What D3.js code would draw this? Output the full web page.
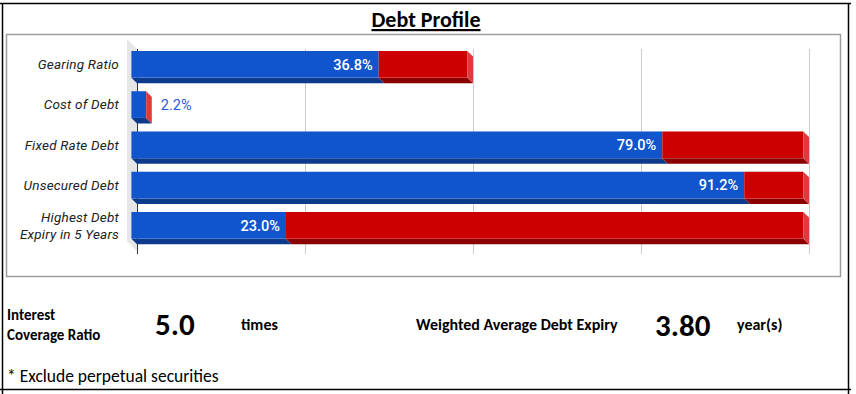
<!DOCTYPE html>
<html>
<head>
<meta charset="utf-8">
<title>Debt Profile</title>
<script src="https://d3js.org/d3.v7.min.js"></script>
<style>
  body { margin: 0; background: #fff; }
  svg { display: block; }
</style>
</head>
<body>
<svg id="chart" width="856" height="394"></svg>
<script>
// bar data: blue = reported value, red = remainder up to the limit
var categories = ["Gearing Ratio", "Cost of Debt", "Fixed Rate Debt", "Unsecured Debt", "Highest Debt|Expiry in 5 Years"];
var actual = [36.8, 2.2, 79.0, 91.2, 23.0];
var remainder = [13.2, 0, 21.0, 8.8, 77.0];
var ticks = [0, 25, 50, 75, 100];

// summary figures under the chart
var statNames = ["Interest|Coverage Ratio", "Weighted Average Debt Expiry"];
var statValues = ["5.0", "3.80"];
var statUnits = ["times", "year(s)"];
var footnote = "* Exclude perpetual securities";

var svg = d3.select("#chart");
var calibri = "Carlito, Calibri, Lato, sans-serif";

// outer frame
svg.append("line").attr("x1", 0).attr("x2", 851).attr("y1", 3.5).attr("y2", 3.5).attr("stroke", "#000").attr("stroke-width", 1.5);
svg.append("line").attr("x1", 0).attr("x2", 851).attr("y1", 389.5).attr("y2", 389.5).attr("stroke", "#000").attr("stroke-width", 1.5);
svg.append("line").attr("x1", 2.5).attr("x2", 2.5).attr("y1", 3).attr("y2", 394).attr("stroke", "#000").attr("stroke-width", 1.5);
svg.append("line").attr("x1", 848.5).attr("x2", 848.5).attr("y1", 3).attr("y2", 394).attr("stroke", "#000").attr("stroke-width", 1.5);

svg.append("text").attr("x", 426).attr("y", 27)
  .attr("text-anchor", "middle")
  .style("font-family", calibri).style("font-weight", "bold").style("font-size", "22px")
  .style("text-decoration", "underline")
  .text("Debt Profile");

// chart box
svg.append("rect").attr("x", 6.5).attr("y", 34.5).attr("width", 834).attr("height", 242)
  .attr("fill", "#fff").attr("stroke", "#9e9e9e").attr("stroke-width", 1.5);

var depth = 5.6;
var x = d3.scaleLinear().domain([0, 100]).range([137, 809]);
var y = d3.scaleBand().domain(categories).range([44.2, 245.45]).paddingInner(0.337).paddingOuter(0.1685);
var bw = y.bandwidth();
var x0 = x(0);

// left wall of the 3d plot
svg.append("polygon")
  .attr("points", [[x0 - 10, 39], [x0, 49], [x0, 251], [x0 - 10, 241]].join(" "))
  .attr("fill", "#e6e6e6");

// gridlines
svg.selectAll(".grid").data(ticks.slice(1)).enter().append("line")
  .attr("class", "grid")
  .attr("x1", function (d) { return x(d) + 0.5; }).attr("x2", function (d) { return x(d) + 0.5; })
  .attr("y1", 49).attr("y2", 254)
  .attr("stroke", "#cccccc").attr("stroke-width", 1);

svg.append("line").attr("x1", x0 + 0.5).attr("x2", x0 + 0.5).attr("y1", 49).attr("y2", 254)
  .attr("stroke", "#333").attr("stroke-width", 1);

var colors = {
  blue: { front: "#1155cc", bottom: "#0d3a8a", side: "#2d6ae0" },
  red: { front: "#cc0000", bottom: "#8a0000", side: "#dc3c3c" }
};

function xf(v) { return x(v) - depth; }

var rows = categories.map(function (c, i) {
  return { cat: c, segs: [
    { a: 0, b: actual[i], col: colors.blue },
    { a: actual[i], b: actual[i] + remainder[i], col: colors.red }
  ], value: actual[i] };
});

var g = svg.append("g");
rows.forEach(function (r) {
  var top = y(r.cat), bot = top + bw;
  r.segs.forEach(function (s, k) {
    // bottom face
    g.append("polygon")
      .attr("points", [[xf(s.a), bot], [xf(s.b), bot], [xf(s.b) + depth, bot + depth], [xf(s.a) + depth, bot + depth]].join(" "))
      .attr("fill", s.col.bottom);
    if (s.b > s.a) {
      g.append("rect").attr("x", xf(s.a)).attr("y", top)
        .attr("width", xf(s.b) - xf(s.a)).attr("height", bw)
        .attr("fill", s.col.front);
    }
    if (k == r.segs.length - 1) {
      g.append("polygon")
        .attr("points", [[xf(s.b), top], [xf(s.b) + depth, top + depth], [xf(s.b) + depth, bot + depth], [xf(s.b), bot]].join(" "))
        .attr("fill", s.col.side);
    }
  });

  var inside = r.value > 10;
  g.append("text")
    .attr("x", inside ? xf(r.value) - 6 : xf(r.value) + depth + 9)
    .attr("y", top + bw / 2)
    .attr("dy", "0.36em")
    .attr("text-anchor", inside ? "end" : "start")
    .attr("fill", inside ? "#fff" : "#2a5bd7")
    .style("font-family", "Roboto, sans-serif").style("font-size", "14.5px")
    .style("font-weight", inside ? 500 : 400)
    .text(r.value.toFixed(1) + "%");

  // category label, may be two lines
  var lines = r.cat.split("|");
  var lab = g.append("text")
    .attr("text-anchor", "end")
    .attr("fill", "#222")
    .style("font-family", "Roboto, sans-serif").style("font-size", "13.5px").style("font-style", "italic")
    .style("letter-spacing", "0.2px");
  lines.forEach(function (t, j) {
    lab.append("tspan").attr("x", 119)
      .attr("y", top + bw / 2 + (j - (lines.length - 1) / 2) * 17)
      .attr("dy", "0.36em")
      .text(t);
  });
});

// summary row
var name1 = svg.append("text").style("font-family", calibri).style("font-weight", "bold").style("font-size", "15px");
statNames[0].split("|").forEach(function (t, j) {
  name1.append("tspan").attr("x", 7).attr("y", 320 + j * 20).text(t);
});
svg.append("text").attr("x", 155).attr("y", 335)
  .style("font-family", calibri).style("font-weight", "bold").style("font-size", "31px").text(statValues[0]);
svg.append("text").attr("x", 241).attr("y", 330)
  .style("font-family", calibri).style("font-weight", "bold").style("font-size", "16px").text(statUnits[0]);

svg.append("text").attr("x", 416).attr("y", 330)
  .style("font-family", calibri).style("font-weight", "bold").style("font-size", "16px").text(statNames[1]);
svg.append("text").attr("x", 655).attr("y", 336)
  .style("font-family", calibri).style("font-weight", "bold").style("font-size", "31px").text(statValues[1]);
svg.append("text").attr("x", 737).attr("y", 330)
  .style("font-family", calibri).style("font-weight", "bold").style("font-size", "16px").text(statUnits[1]);

svg.append("text").attr("x", 7).attr("y", 382)
  .style("font-family", calibri).style("font-size", "17.5px").text(footnote);
</script>
</body>
</html>
